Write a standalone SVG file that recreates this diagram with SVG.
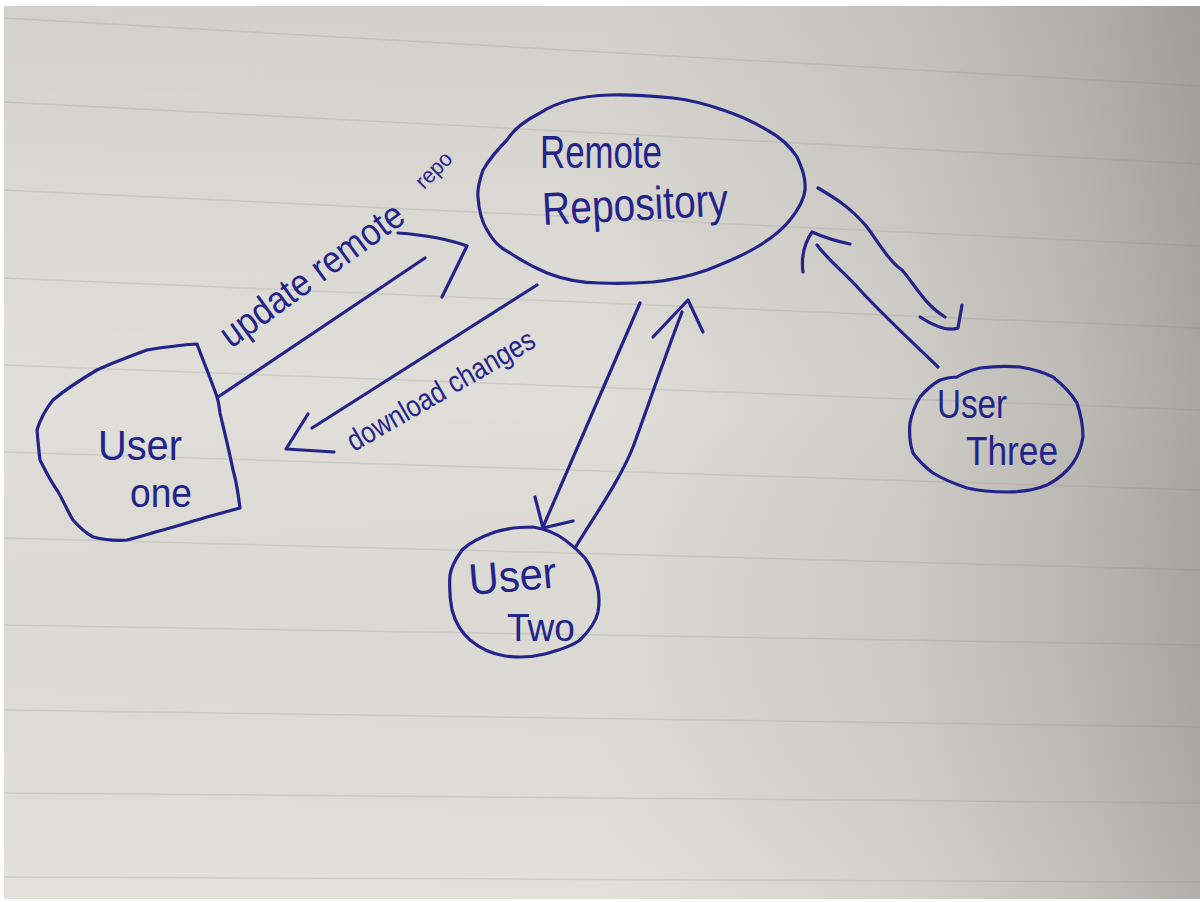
<svg xmlns="http://www.w3.org/2000/svg" width="1200" height="902" viewBox="0 0 1200 902">
  <defs>
    <linearGradient id="paperH" x1="0" y1="0" x2="1" y2="0">
      <stop offset="0" stop-color="#e1dfd9"/>
      <stop offset="0.5" stop-color="#e0ded8"/>
      <stop offset="0.75" stop-color="#d0cec8"/>
      <stop offset="0.9" stop-color="#bcbab4"/>
      <stop offset="1" stop-color="#a8a7a2"/>
    </linearGradient>
    <linearGradient id="paperV" x1="0" y1="0" x2="0" y2="1">
      <stop offset="0" stop-color="#000" stop-opacity="0.06"/>
      <stop offset="0.45" stop-color="#000" stop-opacity="0"/>
      <stop offset="1" stop-color="#fff" stop-opacity="0.1"/>
    </linearGradient>
    <style>
      .rule { stroke: #8a8884; stroke-opacity: 0.22; stroke-width: 1.5; fill: none; }
      .ink { stroke: #24238a; stroke-width: 3.2; fill: none; stroke-linecap: round; stroke-linejoin: round; }
      .hand { fill: #24238a; font-family: "Liberation Sans", "DejaVu Sans", sans-serif; }
    </style>
  </defs>

  <!-- paper -->
  <rect x="0" y="0" width="1200" height="902" fill="#ffffff"/>
  <rect x="4" y="6" width="1196" height="893" fill="url(#paperH)"/>
  <rect x="4" y="6" width="1196" height="893" fill="url(#paperV)"/>

  <!-- ruled lines -->
  <g id="rules">
    <line class="rule" x1="4" y1="18" x2="1200" y2="86"/>
    <line class="rule" x1="4" y1="102" x2="1200" y2="164"/>
    <line class="rule" x1="4" y1="190" x2="1200" y2="246"/>
    <line class="rule" x1="4" y1="278" x2="1200" y2="328"/>
    <line class="rule" x1="4" y1="365" x2="1200" y2="410"/>
    <line class="rule" x1="4" y1="452" x2="1200" y2="490"/>
    <line class="rule" x1="4" y1="538" x2="1200" y2="570"/>
    <line class="rule" x1="4" y1="625" x2="1200" y2="645"/>
    <line class="rule" x1="4" y1="710" x2="1200" y2="727"/>
    <line class="rule" x1="4" y1="793" x2="1200" y2="803"/>
    <line class="rule" x1="4" y1="877" x2="1200" y2="882"/>
  </g>

  <!-- connectors -->
  <g id="connectors">
    <!-- user one -> remote -->
    <path class="ink" d="M218,397 L425,258"/>
    <path class="ink" d="M398,233 Q440,236 467,246 L442,297"/>
    <text class="hand" font-size="38" textLength="218" lengthAdjust="spacingAndGlyphs" transform="translate(231,349) rotate(-36)">update remote</text>
    <text class="hand" font-size="22" textLength="42" lengthAdjust="spacingAndGlyphs" transform="translate(424,190) rotate(-45)">repo</text>

    <!-- remote -> user one -->
    <path class="ink" d="M537,285 L312,428"/>
    <path class="ink" d="M308,414 L286,449 L334,452"/>
    <text class="hand" font-size="30" textLength="212" lengthAdjust="spacingAndGlyphs" transform="translate(354,452) rotate(-30)">download changes</text>

    <!-- remote -> user two -->
    <path class="ink" d="M640,303 L543,527"/>
    <path class="ink" d="M535,497 L543,528 L573,521"/>
    <!-- user two -> remote -->
    <path class="ink" d="M575,548 C595,515 620,480 633,447 C645,415 660,370 682,312"/>
    <path class="ink" d="M653,337 L688,300 L703,332"/>

    <!-- remote -> user three -->
    <path class="ink" d="M818,188 C835,198 850,207 867,227 C880,245 890,262 902,270 C915,285 925,305 945,317"/>
    <path class="ink" d="M920,317 Q945,333 958,328 L962,305"/>
    <!-- user three -> remote -->
    <path class="ink" d="M938,367 C910,340 880,312 860,290 C845,273 830,262 817,245"/>
    <path class="ink" d="M803,272 Q800,250 812,232 Q830,240 850,244"/>
  </g>

  <!-- remote repository -->
  <g id="remote-repository">
    <path class="ink" d="M610,95 C575,96 555,103 540,113 C522,122 512,132 507,140 C495,152 486,165 483,170 C479,182 477,190 478,197 C479,212 482,222 487,230 C494,242 500,248 510,253 C525,263 535,268 547,273 C565,280 580,283 600,283 C620,284 640,283 653,282 C672,280 690,276 707,270 C725,263 742,256 757,247 C772,238 782,230 790,220 C798,210 804,200 805,190 C806,178 802,168 797,157 C790,146 780,137 767,130 C752,121 738,115 723,110 C706,104 690,100 673,98 C652,96 630,94 610,95 Z"/>
    <text class="hand" x="540" y="168" font-size="46" textLength="122" lengthAdjust="spacingAndGlyphs">Remote</text>
    <text class="hand" font-size="46" textLength="186" lengthAdjust="spacingAndGlyphs" transform="translate(543,225) rotate(-3)">Repository</text>
  </g>

  <!-- user one -->
  <g id="user-one">
    <path class="ink" d="M197,344 C180,345 165,347 147,350 C128,357 112,363 97,370 C80,380 65,390 53,400 C45,410 40,420 37,430 C38,442 39,452 40,460 C46,472 51,482 57,490 C63,500 68,512 73,520 C80,528 86,533 93,537 C105,540 116,541 127,540 C140,537 151,533 163,530 C178,526 193,521 207,517 C218,514 229,511 240,508 C238,492 236,480 233,470 C229,450 224,430 220,413 C219,405 218,400 217,397 C214,388 210,378 207,370 C203,360 200,352 197,344 Z"/>
    <text class="hand" x="98" y="460" font-size="42" textLength="84" lengthAdjust="spacingAndGlyphs">User</text>
    <text class="hand" x="130" y="507" font-size="40" textLength="62" lengthAdjust="spacingAndGlyphs">one</text>
  </g>

  <!-- user two -->
  <g id="user-two">
    <path class="ink" d="M533,527 C515,527 504,529 495,532 C478,538 468,544 462,550 C455,560 451,567 450,575 C449,590 450,600 452,610 C456,625 462,633 470,640 C482,650 492,654 505,656 C520,658 533,657 545,654 C560,650 572,646 580,640 C590,630 596,622 598,612 C600,600 599,592 597,585 C594,572 590,565 585,558 C578,550 572,545 565,540 C556,533 545,529 533,527 Z"/>
    <text class="hand" font-size="44" textLength="88" lengthAdjust="spacingAndGlyphs" transform="translate(470,595) rotate(-5)">User</text>
    <text class="hand" x="507" y="641" font-size="38" textLength="68" lengthAdjust="spacingAndGlyphs">Two</text>
  </g>

  <!-- user three -->
  <g id="user-three">
    <path class="ink" d="M957,377 C965,372 972,370 980,368 C995,366 1008,366 1020,367 C1033,369 1043,372 1053,377 C1063,385 1071,393 1077,403 C1081,415 1083,426 1083,437 C1081,448 1078,456 1073,463 C1066,473 1057,480 1047,485 C1035,490 1020,492 1007,492 C993,492 980,491 967,488 C955,484 943,479 933,473 C925,467 918,460 913,453 C910,444 909,433 910,423 C912,413 915,405 920,397 C926,390 933,384 940,380 C946,378 951,377 957,377"/>
    <text class="hand" x="937" y="418" font-size="40" textLength="70" lengthAdjust="spacingAndGlyphs">User</text>
    <text class="hand" x="966" y="465" font-size="40" textLength="92" lengthAdjust="spacingAndGlyphs">Three</text>
  </g>
</svg>
